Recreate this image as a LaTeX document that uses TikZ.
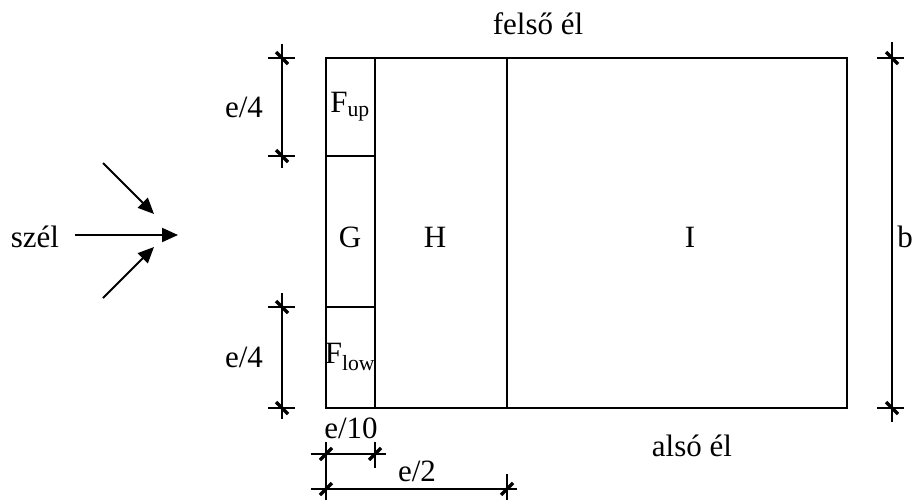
\documentclass[tikz,border=0pt]{standalone}
\usepackage{fontspec}
\setmainfont{Liberation Serif}
\usetikzlibrary{arrows.meta}
\begin{document}
\begin{tikzpicture}[x=1pt,y=-1pt,
  lbl/.style={inner sep=0pt,font=\fontsize{31}{33}\selectfont},
  edge/.style={line width=2pt},
  dimline/.style={line width=1.3pt},
  tick/.style={line width=3.5pt},
  wind/.style={line width=2pt,-{Triangle[length=16pt,width=14pt]}}]
\useasboundingbox (0,0) rectangle (915,500);
% main rectangle and divisions
\coordinate (A) at (326,58);
\coordinate (B) at (847,408);
\draw[edge] (A) rectangle (B);
\draw[edge] (375,58) -- (375,408);
\draw[edge] (507,58) -- (507,408);
\draw[edge] (326,156) -- (375,156);
\draw[edge] (326,307) -- (375,307);
% labels in zones
\node[lbl] (fup) at (350,107) {F\textsubscript{up}};
\node[lbl] (g) at (350,237) {G};
\node[lbl] (h) at (435,237) {H};
\node[lbl] (i) at (690,237) {I};
\node[lbl] (flow) at (350,357) {F\textsubscript{low}};
\node[lbl,anchor=base] (top) at (538,35) {felső él};
\node[lbl,anchor=base] (bot) at (692,456) {alsó él};
% left dimensions e/4
\draw[dimline] (282,44) -- (282,168);
\draw[dimline] (268,58) -- (295,58);
\draw[dimline] (268,156) -- (295,156);
\draw[tick] (276,52) -- (288,64);
\draw[tick] (276,150) -- (288,162);
\node[lbl] (e4a) at (244,107) {e/4};
\draw[dimline] (282,293) -- (282,419);
\draw[dimline] (268,307) -- (295,307);
\draw[dimline] (268,408) -- (295,408);
\draw[tick] (276,301) -- (288,313);
\draw[tick] (276,402) -- (288,414);
\node[lbl] (e4b) at (244,357) {e/4};
% right dimension b
\draw[dimline] (892,42) -- (892,422);
\draw[dimline] (877,58) -- (904,58);
\draw[dimline] (877,408) -- (904,408);
\draw[tick] (886,52) -- (898,64);
\draw[tick] (886,402) -- (898,414);
\node[lbl] (b) at (905,237) {b};
% bottom dimensions
\draw[dimline] (326,442) -- (326,500);
\draw[dimline] (375,442) -- (375,468);
\draw[dimline] (507,474) -- (507,500);
\draw[dimline] (311,454) -- (386,454);
\draw[tick] (320,460) -- (332,448);
\draw[tick] (369,460) -- (381,448);
\node[lbl] (e10) at (351,428) {e/10};
\draw[dimline] (311,489) -- (517,489);
\draw[tick] (320,495) -- (332,483);
\draw[tick] (501,495) -- (513,483);
\node[lbl] (e2) at (417,471) {e/2};
% wind
\node[lbl] (szel) at (35,237) {szél};
\coordinate (w0) at (75,235);
\coordinate (w1) at (178,235);
\coordinate (u0) at (103,163);
\coordinate (u1) at (154,214);
\coordinate (l0) at (103,298);
\coordinate (l1) at (154,247);
\draw[wind] (w0) -- (w1);
\draw[wind] (u0) -- (u1);
\draw[wind] (l0) -- (l1);
\end{tikzpicture}
\end{document}
